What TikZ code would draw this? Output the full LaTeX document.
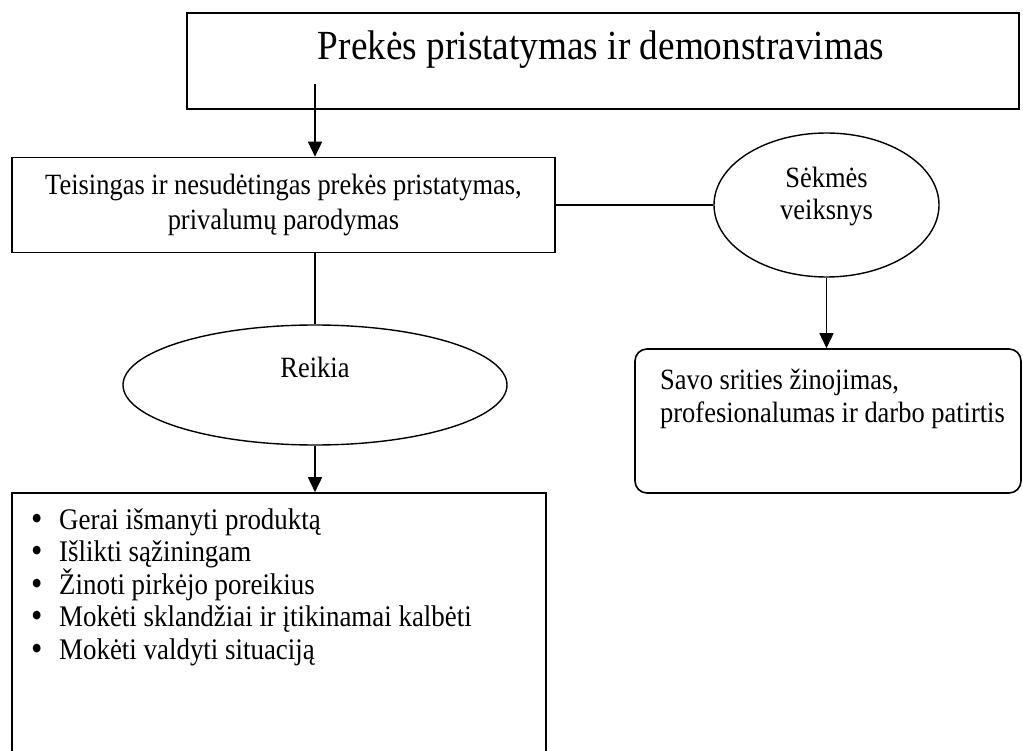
\documentclass[tikz,border=0pt]{standalone}
\usepackage{fontspec}
\setmainfont{Liberation Serif}[FakeStretch=0.9]
\usetikzlibrary{shapes.geometric,arrows.meta}
\newcommand{\bulletitem}{\makebox[28pt][l]{\fontsize{36}{0}\selectfont\raisebox{-1pt}{•}}}
\begin{document}
\begin{tikzpicture}[x=1pt,y=-1pt,
  frame/.style={draw,line width=1.6pt,rectangle,inner sep=0pt},
  oval/.style={draw,line width=1.4pt,ellipse,inner sep=0pt},
  txt/.style={inner sep=0pt,font=\fontsize{29.4}{33}\selectfont},
  link/.style={line width=1.6pt},
  arrowlink/.style={link,-{Triangle[length=15pt,width=14pt]}},
]
\useasboundingbox (0,0) rectangle (1023,751);
\fill[white] (0,0) rectangle (1023,751);

% heading box
\node[frame,minimum width=832pt,minimum height=96pt] (title) at (603,61) {};
\node[txt,font=\fontsize{41.4}{48}\selectfont] (titletext) at (601,50) {Prekės pristatymas ir demonstravimas};

% main statement
\node[frame,minimum width=543pt,minimum height=95pt,align=center,
      font=\fontsize{29.4}{35}\selectfont] (teis) at (283.5,205)
  {Teisingas ir nesudėtingas prekės pristatymas,\\privalumų parodymas};

% success factor
\node[oval,minimum width=225pt,minimum height=144pt] (sekmes) at (826.5,205) {};
\node[txt,align=center,font=\fontsize{29.4}{32}\selectfont] (sekmestext) at (826.5,196) {Sėkmės\\veiksnys};

\node[frame,rounded corners=12pt,minimum width=386pt,minimum height=144pt] (savo) at (828,421) {};
\node[txt,align=left,anchor=west,font=\fontsize{29.4}{33}\selectfont] (savotext) at (660,398.5)
  {Savo srities žinojimas,\\profesionalumas ir darbo patirtis};

% requirements
\node[oval,minimum width=384pt,minimum height=120pt] (reikia) at (315,385) {};
\node[txt] (reikiatext) at (315,367) {Reikia};

\node[frame,minimum width=534pt,minimum height=267pt] (list) at (279,626.5) {};
\node[txt,align=left,anchor=west,font=\fontsize{29.9}{32.5}\selectfont] (listtext) at (31,587)
  {\bulletitem Gerai išmanyti produktą\\
   \bulletitem Išlikti sąžiningam\\
   \bulletitem Žinoti pirkėjo poreikius\\
   \bulletitem Mokėti sklandžiai ir įtikinamai kalbėti\\
   \bulletitem Mokėti valdyti situaciją};

% connectors
\coordinate (start) at (315,84);
\draw[arrowlink] (start) -- (start |- teis.north);
\draw[link] (teis.south -| reikia.north) -- (reikia.north);
\draw[arrowlink] (reikia.south) -- (reikia.south |- list.north);
\draw[link] (teis.east) -- (sekmes.west);
\draw[arrowlink] (sekmes.south) -- (sekmes.south |- savo.north);
\end{tikzpicture}
\end{document}
